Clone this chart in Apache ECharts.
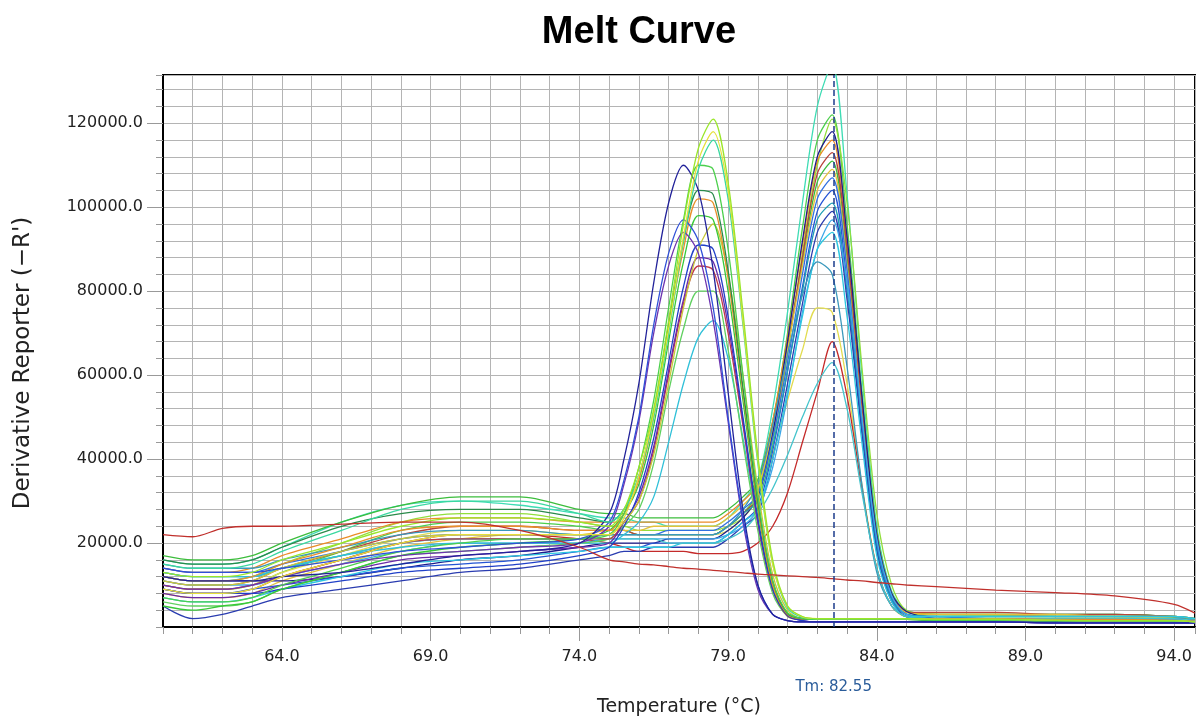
<!DOCTYPE html>
<html>
<head>
<meta charset="utf-8">
<script src="https://cdn.jsdelivr.net/npm/echarts@6.0.0/dist/echarts.min.js"></script>
<style>
  html, body { margin: 0; padding: 0; background: #fff; }
  #chart { width: 1197px; height: 722px; }
</style>
</head>
<body>
<div id="chart"></div>
<script>
// temperature points (°C) shared by every well
const temps = [60, 61, 62, 63, 64, 66, 68, 70, 72, 74, 75, 75.5, 76, 76.5, 77, 77.5, 78, 78.5, 79, 79.5,
    80, 80.5, 81, 81.5, 82, 82.5, 83, 83.5, 84, 84.5, 85, 86, 88, 90, 92, 94, 94.7];

// derivative reporter, in thousands
// wells with the lower Tm (~78)
const a1  = [13, 12, 12, 13, 16, 20, 24, 26, 26, 25, 24, 28, 38, 52, 73, 96, 114, 121, 106, 75, 41, 16, 5, 2.5, 2, 2, 2, 2, 2, 2, 2, 1.8, 1.8, 1.6, 1.5, 1.5, 1.2];
const a2  = [9, 8, 8, 9, 12, 16, 20, 22, 22, 22, 22, 26, 36, 51, 71, 93, 111, 118, 104, 73, 40, 15, 5, 2.4, 2, 2, 2, 2, 2, 2, 2, 1.8, 1.8, 1.6, 1.5, 1.5, 1.2];
const a3  = [7, 6, 6, 7, 10, 14, 18, 20, 21, 21, 22, 27, 38, 54, 76, 97, 110, 109, 90, 60, 31, 11, 3.4, 2, 1.8, 1.8, 1.8, 1.8, 1.8, 1.8, 1.8, 1.6, 1.6, 1.5, 1.5, 1.4, 1.2];
const a4  = [12, 11, 11, 11, 12, 13, 15, 17, 18, 20, 27, 40, 58, 82, 101, 110, 104, 85, 56, 28, 10, 3, 1.5, 1.2, 1.2, 1.2, 1.2, 1.2, 1.2, 1.2, 1.2, 1.2, 1.2, 1, 1, 1, 1];
const a5  = [10, 9, 9, 10, 12, 15, 17, 18, 19, 20, 24, 34, 49, 70, 86, 94, 89, 73, 49, 25, 9, 3, 1.5, 1.2, 1.2, 1.2, 1.2, 1.2, 1.2, 1.2, 1.2, 1.2, 1.2, 1, 1, 1, 1];
const a6  = [12, 11, 11, 12, 15, 19, 23, 24, 24, 23, 23, 27, 35, 50, 71, 90, 102, 101, 83, 56, 29, 10, 3, 2, 2, 2, 2, 2, 2, 2, 2, 2, 2, 1.8, 1.8, 1.6, 1.4];
const a7  = [5, 4, 5, 6, 9, 13, 17, 19, 20, 21, 23, 27, 34, 48, 68, 87, 98, 97, 80, 54, 28, 10, 3, 2, 1.8, 1.8, 1.8, 1.8, 1.8, 1.8, 1.8, 1.6, 1.6, 1.5, 1.5, 1.4, 1.2];
const a8  = [11, 10, 10, 11, 14, 18, 21, 22, 22, 22, 22, 25, 30, 41, 58, 76, 90, 96, 84, 60, 33, 12.5, 4, 2, 2, 2, 2, 2, 2, 2, 2, 1.8, 1.8, 1.6, 1.5, 1.5, 1.2];
const a9  = [9, 8, 8, 8, 9, 11, 13, 14, 15, 17, 19, 24, 32, 45, 63, 81, 91, 90, 74, 50, 26, 9, 2.8, 1.5, 1.2, 1.2, 1.2, 1.2, 1.2, 1.2, 1.2, 1.2, 1.2, 1, 1, 1, 1];
const a10 = [8, 7, 7, 8, 10, 13, 16, 17, 18, 19, 20, 25, 31, 43, 61, 78, 88, 87, 72, 49, 25, 9, 2.7, 1.5, 1.2, 1.2, 1.2, 1.2, 1.2, 1.2, 1.2, 1.2, 1.2, 1, 1, 1, 1];
const a11 = [10, 9, 9, 10, 12, 16, 20, 21, 21, 21, 21, 25, 30, 42, 60, 77, 86, 85, 70, 48, 25, 9, 2.6, 1.8, 1.8, 1.8, 1.8, 1.8, 1.8, 1.8, 1.8, 1.8, 1.8, 1.6, 1.6, 1.5, 1.2];
const a12 = [6, 5, 5, 6, 9, 13, 17, 18, 19, 20, 21, 24, 28, 39, 56, 71, 80, 80, 66, 44, 23, 8, 2.5, 1.8, 1.8, 1.8, 1.8, 1.8, 1.8, 1.8, 1.8, 1.6, 1.6, 1.5, 1.5, 1.4, 1.2];
const a13 = [13, 12, 12, 12, 14, 17, 19, 20, 20, 20, 20, 22, 25, 31, 44, 58, 69, 73, 64, 45, 25, 9.5, 3, 2, 2, 2, 2, 2, 2, 2, 2, 2, 2, 1.8, 1.8, 1.6, 1.4];
const a14 = [16, 15, 15, 16, 19, 24, 27, 28, 28, 26, 25, 28, 36, 51, 72, 92, 104, 103, 85, 57, 30, 11, 3.2, 2, 1.8, 1.8, 1.8, 1.8, 1.8, 1.8, 1.8, 1.6, 1.6, 1.5, 1.5, 1.4, 1.2];
const a15 = [15, 14, 14, 15, 18, 23, 28, 30, 30, 27, 25, 28, 36, 50, 70, 92, 109, 116, 102, 72, 39, 15, 4.6, 2.3, 2, 2, 2, 2, 2, 2, 2, 1.8, 1.8, 1.6, 1.5, 1.5, 1.2];
const a16 = [14, 13, 13, 13, 14, 16, 18, 19, 20, 21, 25, 35, 50, 72, 89, 97, 92, 76, 50, 26, 10, 3, 1.5, 1.2, 1.2, 1.2, 1.2, 1.2, 1.2, 1.2, 1.2, 1.2, 1.2, 1, 1, 1, 1];

// wells with the higher Tm (~82.5)
const b1  = [16, 15, 15, 16, 19, 25, 29, 30, 29, 27, 26, 26, 25, 25, 24, 24, 24, 24, 26, 30, 35, 52, 75, 101, 124, 134, 103, 60, 24, 8.5, 4, 3, 3, 3, 3, 2.5, 2];
const b2  = [10, 9, 9, 10, 13, 18, 23, 25, 25, 24, 23, 23, 22, 22, 22, 22, 22, 22, 24, 27, 32, 48, 70, 95, 116, 122, 96, 56, 23, 8, 3.8, 2.5, 2.5, 2.5, 2.5, 2.2, 1.8];
const b3  = [12, 11, 11, 12, 15, 20, 25, 27, 27, 25, 24, 24, 23, 23, 23, 23, 23, 23, 24, 26, 31, 44, 65, 89, 110, 121, 101, 62, 27, 10, 4, 3, 2.8, 2.6, 2.5, 2.3, 2];
const b4  = [12, 11, 11, 11, 11, 12, 14, 16, 17, 19, 20, 20, 20, 20, 21, 21, 21, 21, 23, 26, 31, 46, 68, 92, 112, 118, 93, 55, 22, 8, 3.7, 2, 1.5, 1.5, 1.5, 1.5, 1.2];
const b5  = [14, 13, 13, 14, 17, 21, 25, 26, 26, 25, 25, 25, 25, 25, 25, 25, 25, 25, 27, 30, 34, 49, 69, 91, 111, 116, 92, 54, 22, 8, 3.7, 3, 3, 2.5, 2.5, 2, 1.5];
const b6  = [11, 10, 10, 11, 14, 18, 22, 24, 24, 23, 23, 23, 22, 22, 22, 22, 22, 22, 24, 27, 31, 46, 66, 88, 108, 113, 90, 52, 21, 7.5, 3.5, 3.5, 3.5, 3, 3, 2.5, 2];
const b7  = [8, 7, 7, 8, 11, 15, 19, 21, 22, 22, 23, 23, 23, 24, 24, 24, 24, 24, 26, 29, 33, 47, 66, 86, 104, 109, 86, 50, 20, 7, 3.5, 3, 3, 3, 2.5, 2.5, 2];
const b8  = [9, 8, 8, 9, 10, 12, 14, 15, 16, 18, 19, 19, 19, 20, 20, 20, 20, 20, 22, 25, 28.5, 42, 61, 81, 99, 104, 82, 48, 19, 6.5, 3, 2, 1.5, 1.5, 1.5, 1.2, 1];
const b9  = [13, 12, 12, 12, 14, 17, 20, 21, 21, 21, 22, 22, 22, 22, 22, 22, 22, 22, 24, 27, 30, 43, 61, 80, 97, 101, 80, 47, 19, 6.5, 3, 2.5, 2.5, 2.5, 2.5, 2.5, 2];
const b10 = [5, 2, 3, 5, 7, 9, 11, 13, 14, 16, 17, 18, 18, 19, 19, 19, 19, 19, 21, 24, 27, 40, 58, 77, 94, 99, 78, 46, 18, 6, 2.5, 1.5, 1.2, 1.2, 1.2, 1, 1];
const b11 = [11, 10, 10, 10, 12, 15, 18, 20, 20, 20, 21, 21, 21, 21, 21, 21, 21, 21, 22, 24, 28, 38, 55, 75, 90, 97, 82, 50, 21, 7.5, 3, 2, 2, 2, 2, 1.8, 1.5];
const b12 = [7, 6, 6, 7, 9, 12, 15, 16, 17, 18, 19, 19, 19, 19, 19, 20, 20, 20, 22, 25, 28, 40, 56, 74, 90, 94, 74, 44, 17, 6, 2.5, 2.5, 2.5, 2.5, 2.5, 2.5, 2];
const b13 = [15, 14, 14, 14, 16, 19, 22, 23, 23, 22, 22, 22, 22, 22, 22, 22, 22, 22, 24, 28, 34, 48, 65, 79, 87, 84, 62, 34, 13, 5, 2.5, 2, 2, 2, 2, 2, 1.5];
const b14 = [10, 9, 9, 10, 13, 17, 21, 23, 23, 22, 22, 22, 22, 22, 22, 22, 22, 22, 23, 26, 31, 41, 54, 66, 76, 75, 58, 34, 14, 5, 2.5, 2.5, 2.5, 2.5, 2.5, 2, 1.5];
const b15 = [12, 11, 11, 12, 14, 17, 20, 21, 21, 21, 21, 21, 21, 21, 20, 20, 20, 20, 21, 23, 27, 33, 41, 50, 58, 63, 52, 32, 14, 5, 2.5, 2, 2, 2, 2, 2, 1.5];
const b16 = [9, 8, 8, 9, 12, 16, 20, 22, 22, 21, 20, 19, 18, 18, 18, 18, 17.5, 17.5, 17.5, 18, 20, 24, 32, 44, 56, 68, 55, 33, 14, 5, 2.5, 2, 2, 2, 2, 2, 1.5];
const b17 = [14, 13, 13, 13, 15, 18, 21, 22, 22, 22, 22, 22, 22, 22, 23, 23, 23, 23, 25, 28, 31.5, 45, 63, 84, 102, 107, 85, 49, 20, 7, 3, 2.5, 2, 2, 2, 2, 1.5];
const b18 = [17, 16, 16, 17, 20, 25, 29, 31, 31, 28, 27, 27, 26, 26, 26, 26, 26, 26, 28, 31, 35, 49, 67, 87, 106, 111, 88, 51, 21, 7.5, 3.5, 3, 3, 3, 3, 2.5, 2];

// well without a melt peak
const r1  = [22, 21.5, 23.5, 24, 24, 24.5, 25, 25, 23, 19, 16, 15.5, 15, 14.8, 14.4, 14, 13.8, 13.5, 13.2, 12.9, 12.6, 12.4, 12.2, 12, 11.8, 11.5, 11.2, 11, 10.6, 10.3, 10, 9.6, 8.8, 8.2, 7.4, 5.4, 3.3];

const tm = 82.55;
const xLabels = [64, 69, 74, 79, 84, 89, 94];
const yLabels = [20000, 40000, 60000, 80000, 100000, 120000];

const wells = [
    [b1, '#3edcb4'], [b2, '#4ccf4c'], [b3, '#92de3c'], [b18, '#3cbd3c'], [b5, '#ea8c28'],
    [b6, '#b8443a'], [b7, '#e2c23c'], [b14, '#e2dc50'], [b16, '#c42a2a'], [b4, '#1c1c8c'],
    [b17, '#3070e0'], [b8, '#2454d4'], [b9, '#1e9eb4'], [b10, '#2a3cb0'], [b11, '#3ea8e8'],
    [b12, '#2ec8e0'], [b13, '#3a98bc'], [b15, '#44c4cc'],
    [a13, '#30c0d8'], [a12, '#60d060'], [a11, '#c03a4a'], [a10, '#6a2aa8'], [a9, '#2040c8'],
    [a8, '#c8c83a'], [a7, '#38c838'], [a6, '#e8902a'], [a14, '#2a8a4a'], [a3, '#4cd04c'],
    [a5, '#6e34b0'], [a16, '#3050d8'], [a4, '#22229a'], [a15, '#3ad8a0'], [a2, '#e6e03a'],
    [a1, '#9ae62a'],
    [r1, '#c0302c']
];

const chart = echarts.init(document.getElementById('chart'));

let series = wells.map(function (w) {
    return {
        type: 'line',
        data: temps.map((t, i) => [t, w[0][i] * 1000]),
        showSymbol: false,
        smooth: 0.3,
        lineStyle: { color: w[1], width: 1.3 },
        itemStyle: { color: w[1] },
        z: 3
    };
});

series[0].markLine = {
    silent: true,
    symbol: 'none',
    animation: false,
    lineStyle: { color: '#1d3c8c', type: 'dashed', width: 1.5 },
    label: {
        position: 'start',
        distance: 53,
        formatter: 'Tm: ' + tm.toFixed(2),
        color: '#2a5c9a',
        fontSize: 15,
        fontFamily: 'DejaVu Sans'
    },
    data: [{ xAxis: tm }]
};

const tickFont = { fontSize: 16, fontFamily: 'DejaVu Sans', color: '#222' };

let option = {
    animation: false,
    title: {
        text: 'Melt Curve',
        left: 634,
        top: 9,
        textAlign: 'center',
        textStyle: { fontSize: 38, fontWeight: 'bold', fontFamily: 'Liberation Sans', color: '#000' }
    },
    grid: {
        left: 163, right: 2, top: 75, bottom: 92,
        show: true, borderColor: '#000', borderWidth: 2
    },
    xAxis: [
        {
            type: 'value', min: 60, max: 94.7, interval: 1,
            position: 'bottom',
            axisLine: { lineStyle: { color: '#000', width: 2 } },
            axisTick: { length: 7, lineStyle: { color: '#999' } },
            axisLabel: { show: false },
            splitLine: { lineStyle: { color: '#b4b4b4', width: 1 } },
            name: 'Temperature (°C)',
            nameLocation: 'middle',
            nameGap: 71,
            nameTextStyle: { fontSize: 19, fontFamily: 'DejaVu Sans', color: '#222' }
        },
        {
            type: 'value', min: 60, max: 94.7,
            position: 'bottom',
            axisLine: { show: false },
            axisTick: { length: 14, customValues: xLabels, lineStyle: { color: '#999' } },
            axisLabel: Object.assign({ customValues: xLabels, margin: 22, formatter: v => v.toFixed(1) }, tickFont),
            splitLine: { show: false }
        }
    ],
    yAxis: [
        {
            type: 'value', min: 0, max: 131500, interval: 4000,
            position: 'left',
            axisLine: { show: true, lineStyle: { color: '#000', width: 2 } },
            axisTick: { show: true, length: 7, lineStyle: { color: '#999' } },
            axisLabel: { show: false },
            splitLine: { lineStyle: { color: '#b4b4b4', width: 1 } },
            name: "Derivative Reporter (\u2212R')",
            nameLocation: 'middle',
            nameGap: 128,
            nameTextStyle: { fontSize: 23, fontFamily: 'DejaVu Sans', color: '#222', padding: [0, 24, 0, 0] }
        },
        {
            type: 'value', min: 0, max: 131500,
            position: 'left',
            axisLine: { show: false },
            axisTick: { show: true, length: 16, customValues: yLabels, lineStyle: { color: '#999' } },
            axisLabel: Object.assign({ customValues: yLabels, margin: 20, formatter: v => v.toFixed(1) }, tickFont),
            splitLine: { show: false }
        }
    ],
    series: series
};

chart.setOption(option);
</script>
</body>
</html>
